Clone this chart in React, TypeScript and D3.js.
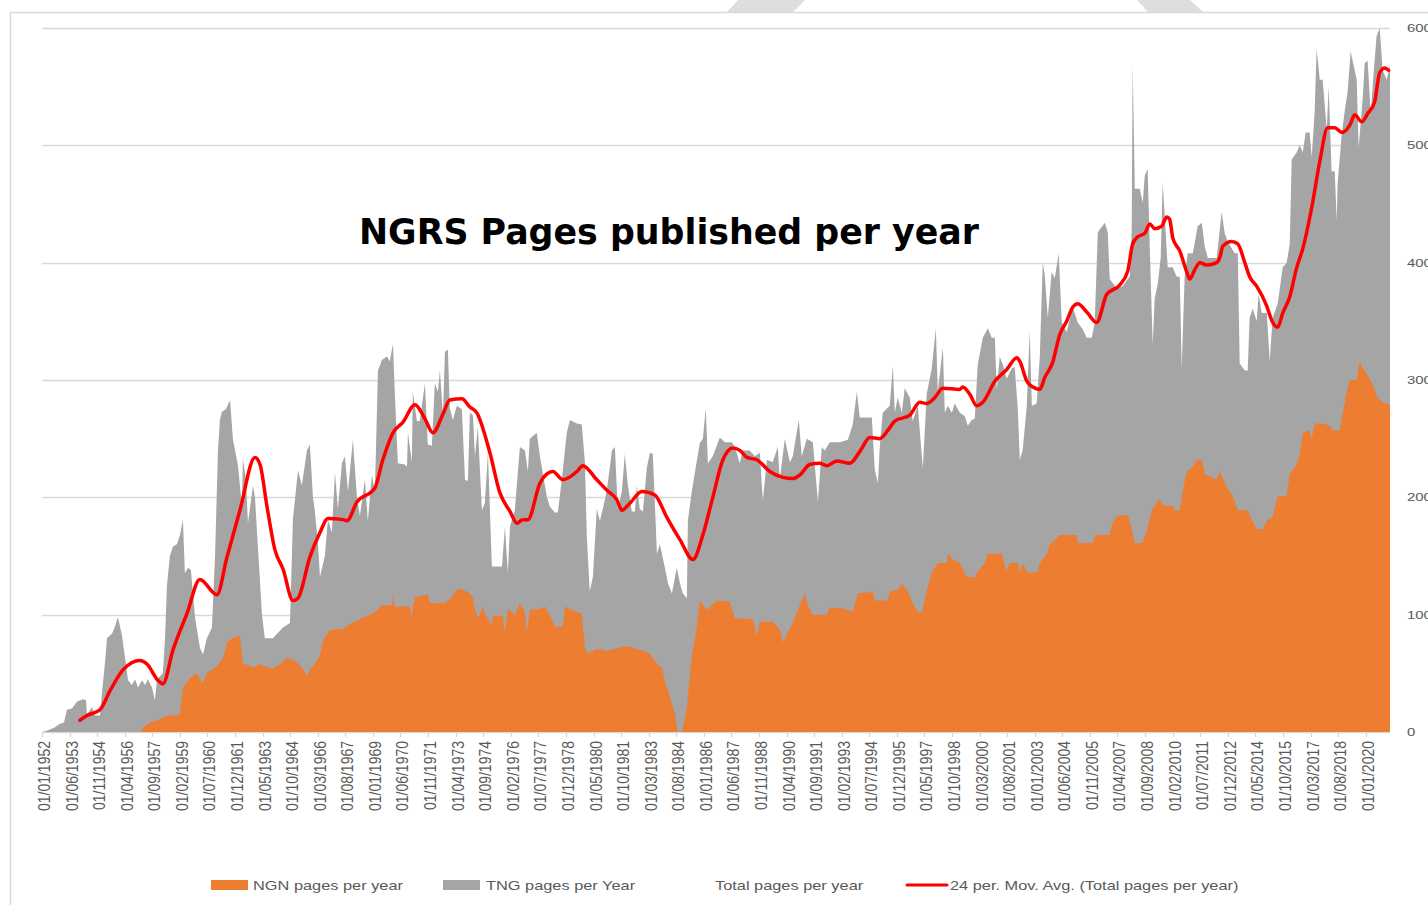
import React from 'react';
import * as d3 from 'd3';

// x axis labels (one every 17 months, Excel date axis)
const tickLabels = [
  '01/01/1952', '01/06/1953', '01/11/1954', '01/04/1956', '01/09/1957', '01/02/1959', '01/07/1960',
  '01/12/1961', '01/05/1963', '01/10/1964', '01/03/1966', '01/08/1967', '01/01/1969', '01/06/1970',
  '01/11/1971', '01/04/1973', '01/09/1974', '01/02/1976', '01/07/1977', '01/12/1978', '01/05/1980',
  '01/10/1981', '01/03/1983', '01/08/1984', '01/01/1986', '01/06/1987', '01/11/1988', '01/04/1990',
  '01/09/1991', '01/02/1993', '01/07/1994', '01/12/1995', '01/05/1997', '01/10/1998', '01/03/2000',
  '01/08/2001', '01/01/2003', '01/06/2004', '01/11/2005', '01/04/2007', '01/09/2008', '01/02/2010',
  '01/07/2011', '01/12/2012', '01/05/2014', '01/10/2015', '01/03/2017', '01/08/2018', '01/01/2020',
];

const yTicks = [0, 100, 200, 300, 400, 500, 600];

// [decimal year, pages per year]
const totalPages: [number, number][] = [
  [1952.0, 0], [1952.26, 1], [1952.67, 4], [1952.92, 7], [1953.13, 8], [1953.28, 19], [1953.54, 20], [1953.8, 26],
  [1954.11, 28], [1954.26, 27], [1954.31, 15], [1954.57, 21], [1954.72, 14], [1954.98, 14], [1955.08, 33], [1955.24, 60],
  [1955.34, 80], [1955.6, 84], [1955.75, 90], [1955.9, 98], [1956.11, 82], [1956.26, 64], [1956.42, 44], [1956.62, 40],
  [1956.78, 45], [1956.93, 38], [1957.14, 44], [1957.29, 40], [1957.44, 45], [1957.65, 38], [1957.8, 27], [1957.91, 45],
  [1958.21, 50], [1958.32, 80], [1958.42, 125], [1958.57, 150], [1958.73, 158], [1958.93, 160], [1959.09, 168], [1959.24, 181],
  [1959.34, 135], [1959.5, 140], [1959.65, 138], [1959.86, 98], [1960.11, 72], [1960.27, 66], [1960.47, 80], [1960.73, 89],
  [1960.89, 150], [1961.04, 240], [1961.14, 266], [1961.24, 273], [1961.45, 275], [1961.66, 283], [1961.81, 249], [1962.07, 227],
  [1962.27, 192], [1962.32, 233], [1962.48, 215], [1962.58, 178], [1962.84, 210], [1962.94, 200], [1963.09, 158], [1963.3, 100],
  [1963.45, 80], [1963.86, 80], [1964.38, 89], [1964.74, 93], [1964.89, 181], [1965.15, 223], [1965.35, 210], [1965.61, 240],
  [1965.76, 245], [1965.92, 200], [1966.02, 188], [1966.18, 160], [1966.28, 132], [1966.53, 150], [1966.69, 181], [1966.89, 170],
  [1967.05, 221], [1967.2, 190], [1967.41, 229], [1967.56, 235], [1967.72, 205], [1967.97, 249], [1968.18, 200], [1968.33, 184],
  [1968.59, 215], [1968.74, 180], [1968.95, 219], [1969.1, 205], [1969.26, 308], [1969.46, 317], [1969.72, 320], [1969.87, 316],
  [1970.03, 331], [1970.13, 287], [1970.28, 229], [1970.64, 228], [1970.75, 226], [1970.8, 255], [1971.0, 230], [1971.05, 290],
  [1971.26, 265], [1971.41, 265], [1971.67, 297], [1971.82, 245], [1972.03, 244], [1972.18, 297], [1972.34, 290], [1972.44, 308],
  [1972.6, 270], [1972.7, 324], [1972.85, 326], [1972.95, 276], [1973.11, 266], [1973.31, 278], [1973.57, 275], [1973.73, 215],
  [1973.88, 214], [1973.98, 272], [1974.14, 270], [1974.24, 235], [1974.39, 260], [1974.6, 189], [1974.75, 195], [1974.91, 238],
  [1975.11, 141], [1975.63, 141], [1975.78, 175], [1975.93, 136], [1976.04, 175], [1976.29, 189], [1976.55, 243], [1976.81, 240],
  [1976.96, 222], [1977.06, 250], [1977.42, 255], [1977.58, 235], [1977.73, 220], [1977.94, 200], [1978.09, 192], [1978.35, 187],
  [1978.5, 187], [1978.71, 216], [1978.96, 255], [1979.12, 266], [1979.48, 263], [1979.73, 262], [1979.89, 230], [1979.99, 166],
  [1980.14, 120], [1980.3, 132], [1980.5, 190], [1980.66, 180], [1980.81, 190], [1981.02, 206], [1981.28, 240], [1981.43, 243],
  [1981.58, 190], [1981.79, 205], [1981.94, 237], [1982.1, 210], [1982.3, 188], [1982.46, 188], [1982.56, 210], [1982.71, 190],
  [1982.87, 188], [1983.07, 225], [1983.23, 238], [1983.38, 237], [1983.59, 152], [1983.74, 160], [1984.0, 140], [1984.15, 127],
  [1984.36, 118], [1984.61, 140], [1984.77, 127], [1984.92, 118], [1985.13, 114], [1985.18, 180], [1985.38, 205], [1985.54, 221],
  [1985.79, 246], [1985.95, 250], [1986.1, 276], [1986.21, 229], [1986.46, 235], [1986.82, 251], [1987.08, 247], [1987.44, 247],
  [1987.59, 243], [1987.85, 229], [1988.0, 240], [1988.36, 240], [1988.62, 235], [1988.88, 238], [1989.03, 197], [1989.24, 232],
  [1989.54, 230], [1989.8, 243], [1989.9, 215], [1990.16, 250], [1990.42, 230], [1990.57, 235], [1990.88, 266], [1991.03, 235],
  [1991.29, 250], [1991.6, 247], [1991.86, 196], [1992.06, 243], [1992.21, 240], [1992.47, 247], [1992.99, 247], [1993.4, 249],
  [1993.65, 262], [1993.86, 290], [1994.01, 268], [1994.63, 268], [1994.78, 224], [1994.94, 212], [1995.04, 243], [1995.19, 272],
  [1995.55, 278], [1995.71, 312], [1995.81, 272], [1995.96, 285], [1996.17, 272], [1996.32, 293], [1996.58, 285], [1996.73, 265],
  [1996.99, 278], [1997.25, 225], [1997.45, 288], [1997.71, 310], [1997.92, 344], [1998.02, 290], [1998.28, 328], [1998.38, 272],
  [1998.53, 278], [1998.74, 272], [1998.89, 280], [1999.15, 272], [1999.41, 269], [1999.56, 261], [1999.76, 266], [1999.92, 267],
  [2000.07, 313], [2000.33, 336], [2000.59, 344], [2000.79, 336], [2000.95, 336], [2001.05, 291], [2001.2, 320], [2001.36, 313],
  [2001.56, 301], [2001.82, 310], [2001.97, 311], [2002.13, 275], [2002.23, 232], [2002.38, 240], [2002.59, 278], [2002.74, 342],
  [2002.85, 278], [2003.1, 280], [2003.26, 320], [2003.41, 400], [2003.51, 390], [2003.67, 353], [2003.87, 392], [2004.03, 387],
  [2004.23, 408], [2004.39, 349], [2004.64, 341], [2004.95, 362], [2005.21, 349], [2005.47, 343], [2005.67, 336], [2005.93, 336],
  [2006.08, 349], [2006.24, 426], [2006.6, 434], [2006.75, 426], [2006.85, 386], [2007.21, 378], [2007.52, 380], [2007.73, 385],
  [2007.88, 388], [2007.98, 427], [2008.03, 570], [2008.14, 463], [2008.39, 463], [2008.55, 451], [2008.65, 474], [2008.8, 480],
  [2008.91, 412], [2009.06, 330], [2009.16, 369], [2009.32, 382], [2009.47, 404], [2009.57, 468], [2009.68, 439], [2009.83, 396],
  [2010.09, 396], [2010.29, 388], [2010.45, 388], [2010.55, 310], [2010.7, 388], [2010.86, 408], [2011.12, 408], [2011.37, 431],
  [2011.58, 434], [2011.73, 414], [2011.89, 404], [2012.35, 404], [2012.6, 443], [2012.76, 425], [2012.91, 418], [2013.27, 408],
  [2013.43, 408], [2013.53, 314], [2013.79, 308], [2013.94, 308], [2014.04, 353], [2014.2, 361], [2014.4, 350], [2014.5, 373],
  [2014.66, 357], [2014.92, 357], [2015.07, 316], [2015.22, 353], [2015.48, 365], [2015.74, 396], [2015.94, 400], [2016.1, 416],
  [2016.2, 488], [2016.46, 494], [2016.61, 500], [2016.77, 494], [2016.92, 511], [2017.12, 511], [2017.23, 490], [2017.38, 529],
  [2017.48, 582], [2017.64, 556], [2017.79, 556], [2018.0, 513], [2018.1, 550], [2018.25, 478], [2018.41, 478], [2018.51, 436],
  [2018.56, 468], [2018.77, 509], [2018.92, 529], [2019.07, 545], [2019.23, 580], [2019.33, 572], [2019.54, 556], [2019.64, 498],
  [2019.85, 541], [2019.95, 570], [2020.1, 572], [2020.26, 527], [2020.41, 562], [2020.56, 593], [2020.72, 600], [2020.87, 564],
  [2021.08, 556], [2021.25, 568],
];

const ngnPages: [number, number][] = [
  [1952.0, 0], [1957.03, 0], [1957.29, 5], [1957.55, 8], [1957.91, 10], [1958.32, 13], [1958.57, 14], [1958.98, 14],
  [1959.09, 16], [1959.24, 38], [1959.6, 46], [1959.96, 50], [1960.11, 45], [1960.27, 42], [1960.47, 50], [1960.89, 55],
  [1961.14, 59], [1961.35, 65], [1961.5, 76], [1961.76, 80], [1962.17, 82], [1962.32, 58], [1962.58, 57], [1962.84, 55],
  [1963.2, 58], [1963.45, 56], [1963.86, 54], [1964.22, 58], [1964.58, 63], [1964.84, 62], [1965.1, 59], [1965.35, 55],
  [1965.61, 48], [1965.76, 53], [1965.92, 56], [1966.28, 65], [1966.43, 78], [1966.79, 87], [1967.46, 88], [1967.82, 92],
  [1968.33, 96], [1968.74, 99], [1969.1, 102], [1969.46, 108], [1969.98, 108], [1970.03, 118], [1970.08, 108], [1970.23, 107],
  [1970.9, 107], [1971.0, 97], [1971.05, 107], [1971.16, 115], [1971.82, 117], [1971.93, 110], [1972.7, 110], [1973.06, 115],
  [1973.31, 121], [1973.47, 122], [1973.88, 119], [1973.98, 118], [1974.14, 114], [1974.24, 105], [1974.39, 97], [1974.65, 106],
  [1974.86, 98], [1975.11, 90], [1975.16, 99], [1975.68, 99], [1975.78, 85], [1975.93, 105], [1976.29, 100], [1976.55, 110],
  [1976.81, 102], [1976.91, 85], [1977.06, 104], [1977.58, 105], [1977.83, 107], [1978.09, 100], [1978.35, 90], [1978.76, 90],
  [1978.86, 107], [1979.38, 103], [1979.73, 101], [1979.89, 72], [1980.04, 67], [1980.5, 71], [1981.02, 69], [1981.43, 71],
  [1982.05, 73], [1982.56, 71], [1983.23, 67], [1983.59, 58], [1983.84, 55], [1984.0, 44], [1984.25, 30], [1984.51, 16],
  [1984.66, 0], [1984.87, 0], [1985.13, 21], [1985.38, 64], [1985.64, 90], [1985.79, 112], [1986.15, 104], [1986.41, 108],
  [1986.67, 112], [1987.34, 111], [1987.59, 97], [1988.52, 96], [1988.72, 82], [1988.88, 94], [1989.54, 94], [1989.9, 88],
  [1990.06, 76], [1990.31, 85], [1990.57, 93], [1990.83, 104], [1991.19, 118], [1991.34, 108], [1991.6, 100], [1992.32, 100],
  [1992.47, 106], [1992.99, 106], [1993.65, 103], [1993.91, 118], [1994.53, 119], [1994.68, 120], [1994.78, 112], [1995.45, 112],
  [1995.55, 120], [1995.96, 121], [1996.17, 126], [1996.48, 120], [1996.73, 110], [1996.99, 102], [1997.2, 102], [1997.45, 120],
  [1997.71, 136], [1998.02, 144], [1998.48, 144], [1998.53, 152], [1998.79, 147], [1999.15, 144], [1999.51, 132], [1999.92, 132],
  [2000.07, 137], [2000.43, 144], [2000.59, 152], [2001.31, 152], [2001.56, 137], [2001.72, 144], [2002.13, 144], [2002.23, 136],
  [2002.38, 144], [2002.64, 136], [2003.15, 136], [2003.26, 144], [2003.62, 152], [2003.77, 160], [2004.29, 168], [2005.16, 168],
  [2005.21, 161], [2005.98, 161], [2006.08, 168], [2006.85, 168], [2006.95, 176], [2007.21, 184], [2007.78, 185], [2007.98, 173],
  [2008.14, 161], [2008.5, 161], [2008.75, 170], [2009.01, 189], [2009.42, 199], [2009.57, 193], [2010.09, 193], [2010.19, 189],
  [2010.45, 189], [2010.6, 205], [2010.81, 222], [2011.12, 226], [2011.32, 232], [2011.58, 232], [2011.73, 220], [2012.14, 216],
  [2012.35, 216], [2012.5, 222], [2012.86, 209], [2013.17, 201], [2013.43, 189], [2013.94, 189], [2014.15, 181], [2014.4, 173],
  [2014.71, 173], [2014.97, 181], [2015.22, 183], [2015.48, 201], [2015.94, 201], [2016.1, 220], [2016.46, 228], [2016.61, 236],
  [2016.77, 255], [2017.12, 257], [2017.23, 250], [2017.38, 263], [2017.79, 263], [2018.15, 261], [2018.31, 257], [2018.67, 257],
  [2018.82, 271], [2019.03, 290], [2019.18, 300], [2019.54, 300], [2019.69, 316], [2019.85, 310], [2020.1, 304], [2020.36, 296],
  [2020.61, 285], [2020.87, 281], [2021.25, 279],
];

const movingAvg: [number, number][] = [
  [1953.95, 10], [1954.31, 14], [1954.98, 19], [1955.49, 35], [1956.16, 53], [1957.03, 61], [1957.39, 58], [1957.96, 44],
  [1958.21, 41], [1958.73, 70], [1959.45, 101], [1960.11, 130], [1960.99, 117], [1961.5, 149], [1962.17, 189], [1962.94, 234],
  [1963.2, 228], [1963.56, 192], [1963.97, 155], [1964.38, 139], [1964.89, 112], [1965.15, 114], [1965.76, 149], [1966.28, 170],
  [1966.69, 182], [1967.46, 181], [1967.66, 180], [1968.18, 196], [1969.1, 208], [1969.51, 232], [1970.03, 255], [1970.54, 264],
  [1971.16, 279], [1971.67, 267], [1972.08, 255], [1972.6, 271], [1972.95, 283], [1973.57, 284], [1973.98, 277], [1974.34, 272],
  [1975.01, 238], [1975.52, 204], [1976.04, 188], [1976.4, 178], [1976.7, 181], [1976.96, 181], [1977.58, 212], [1977.94, 220],
  [1978.24, 222], [1978.76, 215], [1979.48, 222], [1979.78, 227], [1980.5, 215], [1981.02, 206], [1981.53, 198], [1981.79, 189],
  [1982.2, 195], [1982.82, 205], [1983.48, 202], [1984.1, 183], [1984.77, 164], [1985.44, 147], [1985.95, 168], [1986.46, 200],
  [1986.98, 232], [1987.49, 242], [1987.85, 240], [1988.21, 234], [1988.72, 232], [1989.39, 222], [1990.06, 217], [1990.57, 216],
  [1990.93, 219], [1991.44, 228], [1991.96, 229], [1992.32, 227], [1992.83, 231], [1993.5, 229], [1994.01, 239], [1994.53, 251],
  [1995.04, 250], [1995.45, 257], [1995.81, 265], [1996.58, 270], [1997.09, 281], [1997.45, 280], [1997.86, 285], [1998.28, 293],
  [1999.15, 292], [1999.3, 294], [1999.66, 288], [2000.02, 278], [2000.33, 281], [2000.95, 299], [2001.56, 309], [2002.08, 319],
  [2002.23, 316], [2002.59, 299], [2002.9, 294], [2003.26, 292], [2003.51, 302], [2003.92, 315], [2004.29, 339], [2004.64, 350],
  [2004.95, 362], [2005.21, 365], [2005.67, 358], [2006.18, 349], [2006.7, 373], [2007.37, 381], [2007.78, 393], [2008.03, 416],
  [2008.29, 422], [2008.65, 425], [2008.91, 433], [2009.16, 429], [2009.52, 431], [2009.78, 439], [2009.93, 437], [2010.09, 421],
  [2010.45, 410], [2010.81, 392], [2010.96, 386], [2011.22, 394], [2011.48, 400], [2011.83, 398], [2012.35, 400], [2012.5, 404],
  [2012.66, 414], [2013.12, 418], [2013.43, 416], [2013.79, 400], [2014.04, 388], [2014.4, 380], [2014.92, 363], [2015.17, 351],
  [2015.48, 345], [2015.74, 357], [2016.1, 371], [2016.46, 396], [2016.77, 412], [2017.23, 447], [2017.64, 486], [2018.05, 515],
  [2018.41, 515], [2018.77, 511], [2019.18, 517], [2019.44, 526], [2019.8, 520], [2020.1, 527], [2020.46, 537], [2020.72, 562],
  [2020.98, 566], [2021.18, 564],
];

const legendLabels = [
  'NGN pages per year',
  'TNG pages per Year',
  'Total pages per year',
  '24 per. Mov. Avg. (Total pages per year)',
];

const ORANGE = '#ED7D31';
const GREY = '#A5A5A5';
const RED = '#FF0000';
const GRID = '#D9D9D9';
const TEXT = '#595959';
const FONT = '"Liberation Sans", Arial, sans-serif';

const W = 1428;
const H = 905;
const plot = { left: 42, right: 1390, top: 28, bottom: 732 };

const tickYear = (s: string) => {
  const [, m, yr] = s.split('/').map(Number);
  return yr + (m - 1) / 12;
};

export default function App() {
  const x = d3.scaleLinear().domain([1952, 2021.25]).range([plot.left, plot.right]);
  const y = d3.scaleLinear().domain([0, 600]).range([plot.bottom, plot.top]);

  const area = d3
    .area<[number, number]>()
    .x((d) => x(d[0]))
    .y0(y(0))
    .y1((d) => y(d[1]));

  const maLine = d3
    .line<[number, number]>()
    .x((d) => x(d[0]))
    .y((d) => y(d[1]))
    .curve(d3.curveMonotoneX);

  // legend layout: swatch start, text start
  const legendPos = [
    { sw: 211, tx: 253 },
    { sw: 443, tx: 486 },
    { sw: 676, tx: 715 },
    { sw: 907, tx: 950 },
  ];
  const legendKinds = ['rect', 'rect', 'none', 'line'];
  const legendColors = [ORANGE, GREY, 'none', RED];

  return (
    <svg
      width={W}
      height={H}
      viewBox={`0 0 ${W} ${H}`}
      style={{ position: 'absolute', left: 0, top: 0, background: '#fff' }}
    >
      {/* decorative shapes above frame */}
      <polygon points="738,0 805,0 793,12 727,12" fill="#DEDEDE" />
      <polygon points="1137,0 1190,0 1203,12 1148,12" fill="#DEDEDE" />
      <path d={`M10.5,${H} V12.5 H${W}`} fill="none" stroke={GRID} strokeWidth={1.5} />

      {/* Grid lines */}
      {yTicks.map((t) => (
        <line
          key={t}
          x1={plot.left}
          x2={plot.right}
          y1={Math.round(y(t)) + 0.5}
          y2={Math.round(y(t)) + 0.5}
          stroke={GRID}
          strokeWidth={1.3}
        />
      ))}

      {/* Areas */}
      <path d={area(totalPages) || ''} fill={GREY} />
      <path d={area(ngnPages) || ''} fill={ORANGE} />

      {/* x axis ticks */}
      {tickLabels.map((lab) => {
        const tx = Math.round(x(tickYear(lab))) + 0.5;
        return (
          <g key={lab}>
            <line x1={tx} x2={tx} y1={plot.bottom} y2={plot.bottom + 5} stroke={GRID} strokeWidth={1.3} />
            <text
              transform={`translate(${tx + 2},741) scale(1.2,1) rotate(-90)`}
              textAnchor="end"
              dominantBaseline="central"
              fontFamily={FONT}
              fontSize={14}
              fill={TEXT}
            >
              {lab}
            </text>
          </g>
        );
      })}

      {/* Moving average */}
      <path
        d={maLine(movingAvg) || ''}
        fill="none"
        stroke={RED}
        strokeWidth={3.5}
        strokeLinejoin="round"
        strokeLinecap="round"
      />

      {/* y labels (right side, partly cut by the picture edge as in the original) */}
      {yTicks.map((t) => (
        <text
          key={t}
          transform={`translate(1407,${y(t)}) scale(1.3,1)`}
          dominantBaseline="central"
          fontFamily={FONT}
          fontSize={11.5}
          fill={TEXT}
        >
          {t}
        </text>
      ))}

      {/* Title */}
      <text
        x={669}
        y={244}
        textAnchor="middle"
        fontFamily='"DejaVu Sans", Verdana, sans-serif'
        fontWeight="bold"
        fontSize={35}
        fill="#000"
        textLength={620}
        lengthAdjust="spacingAndGlyphs"
      >
        NGRS Pages published per year
      </text>

      {/* Legend */}
      {legendLabels.map((lab, i) => {
        const p = legendPos[i];
        return (
          <g key={lab}>
            {legendKinds[i] === 'rect' && (
              <rect x={p.sw} y={880} width={37} height={10} fill={legendColors[i]} />
            )}
            {legendKinds[i] === 'line' && (
              <line x1={p.sw} x2={p.sw + 40} y1={885} y2={885} stroke={RED} strokeWidth={3} strokeLinecap="round" />
            )}
            <text
              transform={`translate(${p.tx},885.5) scale(1.31,1)`}
              dominantBaseline="central"
              fontFamily={FONT}
              fontSize={12.5}
              fill={TEXT}
            >
              {lab}
            </text>
          </g>
        );
      })}
    </svg>
  );
}
